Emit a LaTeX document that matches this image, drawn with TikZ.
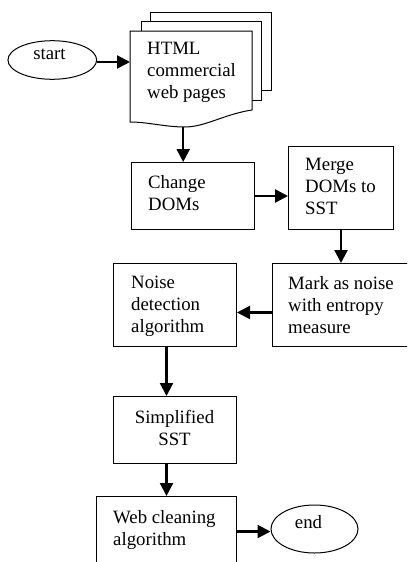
\documentclass[tikz,border=0pt]{standalone}
\usepackage{fontspec}
\setmainfont{Liberation Serif}
\usetikzlibrary{shapes.geometric,arrows.meta}
\begin{document}
\begin{tikzpicture}[x=1pt,y=-1pt,
  box/.style={draw,line width=1pt,rectangle,inner sep=0pt,fill=white,anchor=north west},
  oval/.style={draw,line width=1pt,ellipse,inner sep=0pt},
  txt/.style={inner sep=0pt,align=left,anchor=north west,font=\fontsize{18.8}{22}\selectfont},
  flow/.style={line width=2.2pt,-{Triangle[length=13pt,width=13pt]}},
  sheet/.style={draw,line width=1pt,fill=white}]
\useasboundingbox (0,0) rectangle (407,562);
\clip (0,0) rectangle (407,562);

% stack of pages: two sheets behind a document with a wavy bottom
\draw[sheet] (150,12) rectangle (271,90);
\draw[sheet] (141,21) rectangle (261,100);
\draw[sheet] (130,31) -- (252,31) -- (252,110)
  .. controls (225,114) and (205,127) .. (185,127)
  .. controls (165,127) and (148,122) .. (130,122) -- cycle;
\node[minimum width=122pt,minimum height=96pt,inner sep=0pt,anchor=north west] (pages) at (130,31) {};
\node[txt] (pagestxt) at (147,42.3) {HTML\\commercial\\web pages};

% terminals
\node[oval,minimum width=88.7pt,minimum height=38.6pt] (startnode) at (52.3,60) {};
\node[txt,anchor=base] (starttxt) at (49.5,59.3) {start};
\node[oval,minimum width=87pt,minimum height=48pt] (stopnode) at (314.5,529) {};
\node[txt,anchor=base] (stoptxt) at (308.5,528) {end};

% process boxes
\node[box,minimum width=123pt,minimum height=67pt] (change) at (131,162) {};
\node[txt] (changetxt) at (148,174.8) {Change\\DOMs};
\node[box,minimum width=105pt,minimum height=83pt] (merge) at (288,146) {};
\node[txt] (mergetxt) at (305,158.3) {Merge\\DOMs to\\SST};
\node[box,minimum width=150pt,minimum height=83pt] (mark) at (272,263) {};
\node[txt] (marktxt) at (288,276.3) {Mark as noise\\with entropy\\measure};
\node[box,minimum width=123pt,minimum height=83pt] (noise) at (113,263) {};
\node[txt] (noisetxt) at (131,276.3) {Noise\\detection\\algorithm};
\node[box,minimum width=123pt,minimum height=67pt] (simp) at (113,396) {};
\node[txt,align=center,anchor=north] (simptxt) at (174.5,410.3) {Simplified\\SST};
\node[box,minimum width=140pt,minimum height=67pt] (web) at (96,496) {};
\node[txt] (webtxt) at (113,510.3) {Web cleaning\\algorithm};

% connectors
\draw[flow] ([yshift=-2pt]startnode.east) -- ([yshift=-2pt]startnode.east -| pages.west);
\draw[flow] ([xshift=-8pt]pages.south) -- ([xshift=-8pt]pages.south |- change.north);
\draw[flow] (change.east) -- (change.east -| merge.west);
\draw[flow] (merge.south) -- (merge.south |- mark.north);
\draw[flow] ([yshift=-7.5pt]mark.west) -- ([yshift=-7.5pt]mark.west -| noise.east);
\draw[flow] ([xshift=-8.5pt]noise.south) -- ([xshift=-8.5pt]noise.south |- simp.north);
\draw[flow] ([xshift=-8.5pt]simp.south) -- ([xshift=-8.5pt]simp.south |- web.north);
\draw[flow] ([yshift=-1.5pt]web.east) -- ([yshift=-1.5pt]web.east -| stopnode.west);
\end{tikzpicture}
\end{document}
